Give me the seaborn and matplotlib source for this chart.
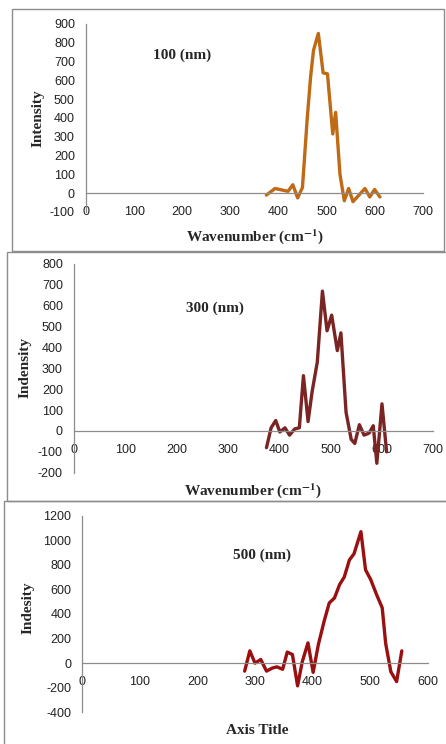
import matplotlib
matplotlib.use("Agg")
import matplotlib.pyplot as plt
from matplotlib.patches import Rectangle
import seaborn as sns
import pandas as pd

# ---- data ----
x100 = [375, 393, 420, 430, 440, 450, 460, 467, 473, 483, 493, 502, 513, 519, 528, 537, 546, 555, 580, 590, 600, 611]
y100 = [-10, 25, 10, 45, -25, 30, 400, 620, 760, 850, 640, 635, 315, 430, 100, -40, 25, -45, 25, -20, 20, -20]

x300 = [375, 384, 393, 401, 411, 420, 430, 439, 447, 456, 464, 474, 484, 493, 502, 513, 520, 530, 540, 547, 556, 565, 575, 583, 590, 600, 609]
y300 = [-80, 15, 50, -5, 15, -20, 10, 15, 265, 45, 190, 330, 670, 480, 555, 385, 470, 90, -40, -60, 30, -20, -10, 25, -155, 130, -100]

x500 = [282, 291, 300, 310, 320, 330, 338, 348, 356, 365, 374, 382, 392, 401, 410, 420, 429, 438, 447, 455, 464, 472, 484, 492, 501, 511, 521, 527, 536, 546, 555]
y500 = [-65, 100, 0, 30, -65, -40, -30, -50, 90, 70, -185, 10, 165, -75, 150, 340, 490, 530, 640, 700, 840, 890, 1070, 760, 680, 560, 450, 160, -70, -150, 100]

labels = ["100 (nm)", "300 (nm)", "500 (nm)"]
xlabels = [r"Wavenumber (cm$^{\mathbf{-1}}$)", r"Wavenumber (cm$^{\mathbf{-1}}$)", "Axis Title"]
ylabels = ["Intensity", "Indensity", "Indesity"]

sns.set_style("white")
plt.rcParams["font.family"] = ["Liberation Sans", "DejaVu Sans"]
plt.rcParams["axes.unicode_minus"] = False
plt.rcParams["mathtext.fontset"] = "stix"

W, H = 446, 744
fig = plt.figure(figsize=(W / 100, H / 100), dpi=100)

def fx(px):
    return px / W

def fy(py):
    return 1 - py / H

# frames (left, top, right, bottom) in pixels
frames = [(12, 9, 444, 251), (7, 252, 447, 501), (4, 501, 447, 746)]
for l, t, r, b in frames:
    fig.patches.append(Rectangle((fx(l), fy(b)), fx(r - l), fy(t) - fy(b),
                                 transform=fig.transFigure, fill=False,
                                 edgecolor="#8c8c8c", lw=1.0, zorder=0))

# axes boxes in pixels (left, top, right, bottom)
boxes = [(86, 24, 422.7, 212), (74, 264, 433.3, 472.7), (82.3, 515.7, 427.7, 712.3)]
xlims = [(0, 700), (0, 700), (0, 600)]
ylims = [(-100, 900), (-200, 800), (-400, 1200)]
ysteps = [100, 100, 200]
colors = ["#BF6A14", "#7A2424", "#9A1010"]
series = [(x100, y100), (x300, y300), (x500, y500)]
ann_pos = [(200, 735), (274, 587), (313, 875)]
xlab_pos = [(255, 237), (253, 491), (257, 731)]
ylab_pos = [(38, 118), (25, 368), (28, 608)]

serif = ["Liberation Serif", "DejaVu Serif"]

for i in range(3):
    l, t, r, b = boxes[i]
    ax = fig.add_axes([fx(l), fy(b), fx(r - l), fy(t) - fy(b)])
    xs, ys = series[i]
    df = pd.DataFrame({"x": xs, "y": ys})
    sns.lineplot(data=df, x="x", y="y", ax=ax, color=colors[i], lw=2.4,
                 sort=False, estimator=None)
    ax.set_xlim(*xlims[i])
    ax.set_ylim(*ylims[i])
    ax.set_xticks(range(xlims[i][0], xlims[i][1] + 1, 100))
    ax.set_yticks(range(ylims[i][0], ylims[i][1] + 1, ysteps[i]))
    for s in ["top", "right"]:
        ax.spines[s].set_visible(False)
    ax.spines["bottom"].set_position(("data", 0))
    ax.spines["left"].set_position(("data", 0))
    for s in ["bottom", "left"]:
        ax.spines[s].set_color("#8c8c8c")
        ax.spines[s].set_linewidth(0.9)
    ax.tick_params(axis="both", direction="out", length=3.5, width=0.9,
                   color="#8c8c8c", labelsize=9, labelcolor="#222222")
    ax.tick_params(axis="x", pad=6)
    ax.tick_params(axis="y", pad=4.5)
    ax.set_xlabel("")
    ax.set_ylabel("")
    ax.patch.set_alpha(0)
    ax.text(ann_pos[i][0], ann_pos[i][1], labels[i], family=serif,
            fontweight="bold", fontsize=11, ha="center", va="center")
    fig.text(fx(xlab_pos[i][0]), fy(xlab_pos[i][1]), xlabels[i], family=serif,
             fontweight="bold", fontsize=11, ha="center", va="center")
    fig.text(fx(ylab_pos[i][0]), fy(ylab_pos[i][1]), ylabels[i], family=serif,
             fontweight="bold", fontsize=11, ha="center", va="center",
             rotation=90)

fig.savefig("out.png", dpi=100)
